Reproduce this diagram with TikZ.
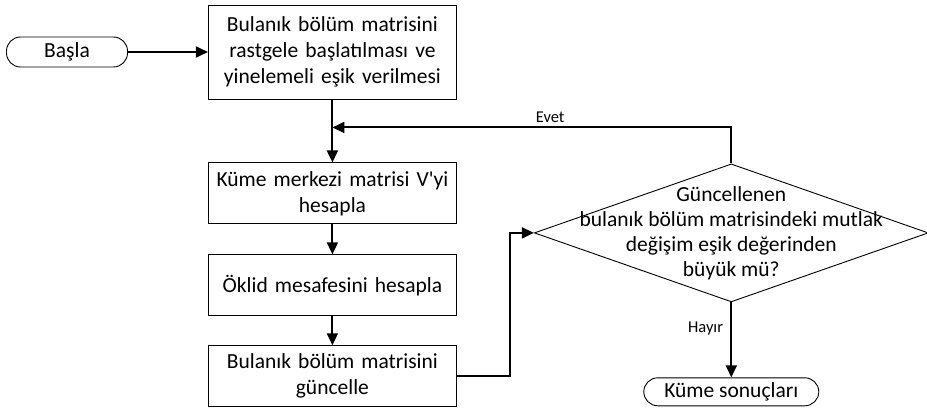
\documentclass[tikz,border=0pt]{standalone}
\usepackage{fontspec}
\setmainfont{Carlito}
\usetikzlibrary{arrows.meta,positioning,calc,shapes.geometric}
\tikzset{
  procbox/.style={
    rectangle, draw=black, line width=0.9pt,
    fill=white, text width=236pt, inner xsep=6pt, align=center,
    minimum height=61pt, font=\fontsize{21.5}{26}\selectfont
  },
  termnode/.style={
    rectangle, rounded corners=14pt, draw=black, line width=0.9pt,
    fill=white, minimum height=30pt, font=\fontsize{21.5}{26}\selectfont
  },
  decision/.style={
    diamond, draw=black, line width=0.9pt, fill=white,
    minimum width=394pt, minimum height=138pt, inner sep=0pt
  },
  checktext/.style={align=center, font=\fontsize{21.5}{25}\selectfont},
  flowarrow/.style={-{Triangle[length=12pt,width=11pt]}, line width=1.9pt, color=black},
  edgelabel/.style={font=\fontsize{16.5}{19}\selectfont},
}
\begin{document}
\begin{tikzpicture}[x=1pt, y=1pt]
  \useasboundingbox (0,0) rectangle (927,-409);

  \node[termnode, minimum width=121pt] (start) at (67,-52) {Başla};
  \node[procbox, minimum height=94pt, right=80pt of start] (init) {Bulanık bölüm matrisini\\rastgele başlatılması ve\\yinelemeli eşik verilmesi};
  \node[procbox, below=63pt of init] (centre) {Küme merkezi matrisi V\textquotesingle yi\\hesapla};
  \node[procbox, below=30pt of centre] (dist) {Öklid mesafesini hesapla};
  \node[procbox, below=29pt of dist] (update) {Bulanık bölüm matrisini\\güncelle};
  \node[decision, right=77pt of centre.east, yshift=-39.5pt,
        label={[checktext]center:{Güncellenen\\bulanık bölüm matrisindeki mutlak\\değişim eşik değerinden\\büyük mü?}}] (check) {};
  \node[termnode, minimum width=175pt, minimum height=28pt, below=75pt of check] (result) {Küme sonuçları};
  \coordinate (join) at ($(init.south)+(0,-28)$);

  \draw[flowarrow] (start) -- (init);
  \draw[flowarrow] (init) -- (centre);
  \draw[flowarrow] (centre) -- (dist);
  \draw[flowarrow] (dist) -- (update);
  \draw[flowarrow] (update.east) -- ++(53,0) |- (check.west);
  \draw[flowarrow] (check.north) |- (join) node[edgelabel, pos=0.727, above=1pt] {Evet};
  \draw[flowarrow] (check) -- (result) node[edgelabel, pos=0.35, left=4pt] {Hayır};
\end{tikzpicture}
\end{document}
